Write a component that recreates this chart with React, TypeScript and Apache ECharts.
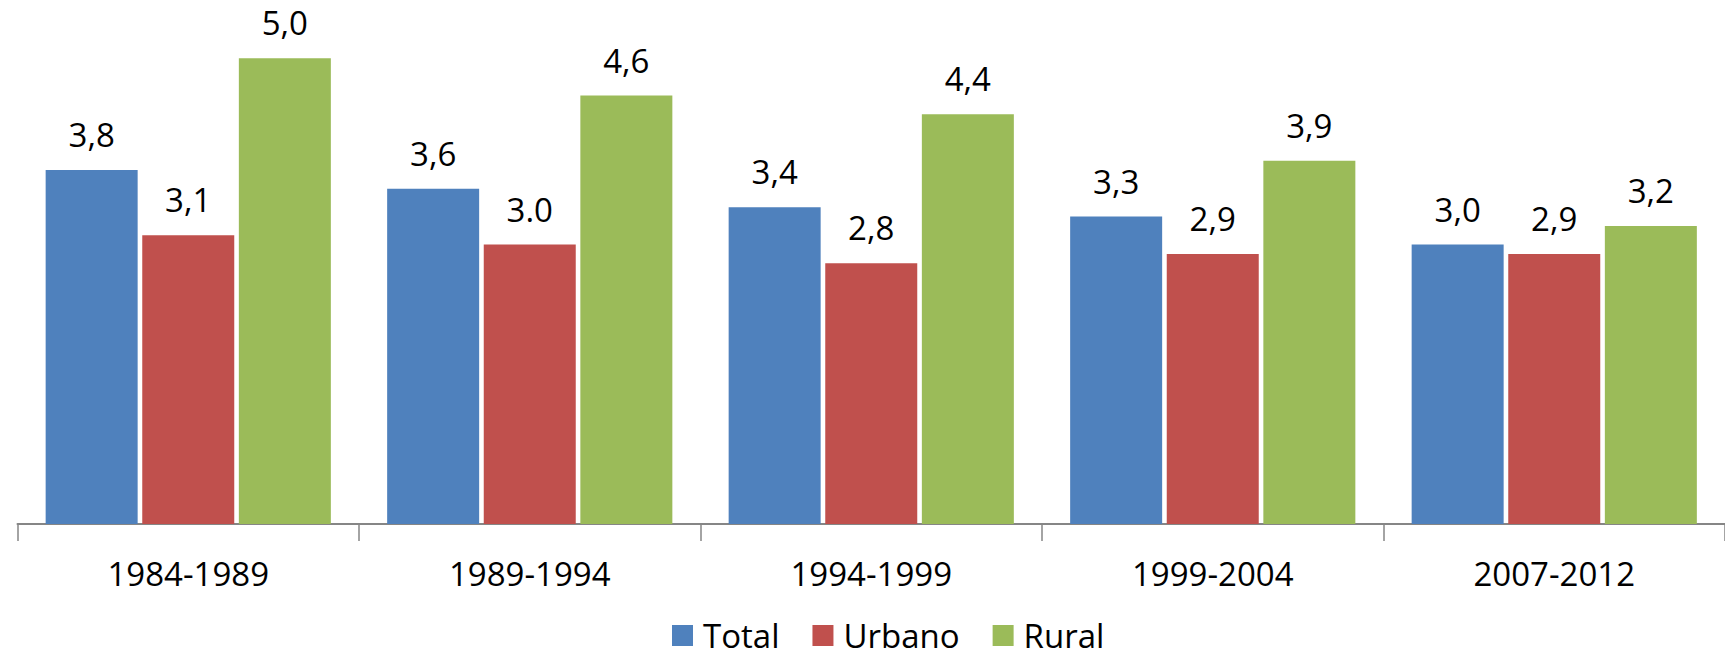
import React, { useEffect, useRef } from "react";
import * as echarts from "echarts";

const categories = ["1984-1989", "1989-1994", "1994-1999", "1999-2004", "2007-2012"];
const seriesNames = ["Total", "Urbano", "Rural"];
const totalValues = [3.8, 3.6, 3.4, 3.3, 3.0];
const urbanoValues = [3.1, 3.0, 2.8, 2.9, 2.9];
const ruralValues = [5.0, 4.6, 4.4, 3.9, 3.2];
const totalLabels = ["3,8", "3,6", "3,4", "3,3", "3,0"];
const urbanoLabels = ["3,1", "3.0", "2,8", "2,9", "2,9"];
const ruralLabels = ["5,0", "4,6", "4,4", "3,9", "3,2"];
const colors = ["#4F81BD", "#C0504D", "#9BBB59"];

const FONT = "'Open Sans', 'Noto Sans', sans-serif";

export default function App() {
  const ref = useRef<HTMLDivElement>(null);
  useEffect(() => {
    if (!ref.current) return;
    const chart = echarts.init(ref.current, undefined, { renderer: "svg" });
    const values = [totalValues, urbanoValues, ruralValues];
    const labels = [totalLabels, urbanoLabels, ruralLabels];
    chart.setOption({
      animation: false,
      textStyle: { fontFamily: FONT },
      grid: { left: 17.5, top: 11.7, width: 1716.5, bottom: 130, containLabel: false },
      legend: {
        data: seriesNames,
        left: 672,
        top: 619,
        padding: 0,
        icon: "rect",
        itemWidth: 21,
        itemHeight: 21,
        itemGap: 33,
        textStyle: { fontSize: 33, color: "#000", fontFamily: FONT, padding: [0, 0, 0, 5] },
      },
      xAxis: {
        type: "category",
        data: categories,
        axisLine: { lineStyle: { color: "#868686", width: 2 } },
        axisTick: { show: true, length: 17, lineStyle: { color: "#868686", width: 1.5 } },
        axisLabel: { color: "#000", fontSize: 33, fontFamily: FONT, margin: 33 },
      },
      yAxis: {
        type: "value",
        min: 0,
        max: 5.5,
        show: false,
        splitLine: { show: false },
      },
      series: seriesNames.map((name, i) => ({
        name,
        type: "bar",
        data: values[i],
        barWidth: 92,
        barGap: "5%",
        itemStyle: { color: colors[i] },
        label: {
          show: true,
          position: "top",
          distance: 19,
          color: "#000",
          fontSize: 33,
          fontFamily: FONT,
          formatter: (p: any) => labels[i][p.dataIndex],
        },
      })),
    });
    return () => chart.dispose();
  }, []);
  return (
    <div
      ref={ref}
      style={{ position: "fixed", left: 0, top: 0, width: 1725, height: 654, background: "#fff" }}
    />
  );
}
